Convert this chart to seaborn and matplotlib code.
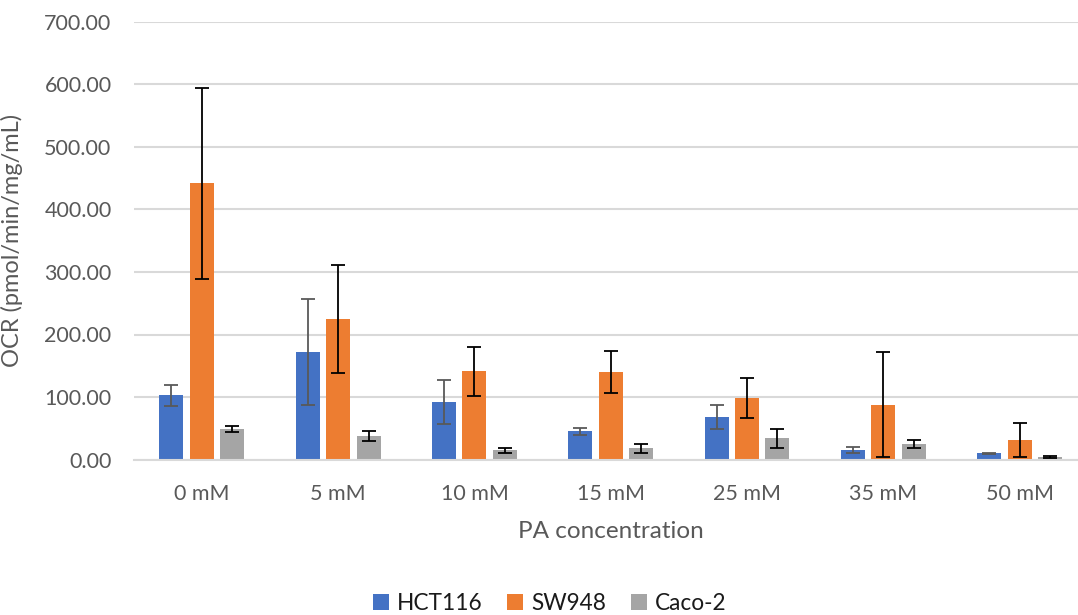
import numpy as np
import pandas as pd
import matplotlib
matplotlib.use("Agg")
import matplotlib.pyplot as plt
from matplotlib.patches import Patch
import seaborn as sns

# OCR per PA concentration for three colorectal cell lines (mean and SD)
concentrations = ["0 mM", "5 mM", "10 mM", "15 mM", "25 mM", "35 mM", "50 mM"]
cell_lines = ["HCT116", "SW948", "Caco-2"]
hct116_mean = [103, 172, 92, 45, 68, 15, 10]
hct116_sd = [17, 85, 35, 5, 19, 5, 1]
sw948_mean = [442, 225, 141, 140, 98, 88, 31]
sw948_sd = [153, 86, 39, 33, 32, 84, 27]
caco2_mean = [49, 37, 15, 18, 34, 25, 4]
caco2_sd = [5, 8, 4, 7, 15, 6, 2]
y_ticks = [0, 100, 200, 300, 400, 500, 600, 700]

colors = ["#4472C4", "#ED7D31", "#A5A5A5"]
err_colors = ["#595959", "#000000", "#000000"]
text_color = "#595959"
grid_color = "#D9D9D9"

means = [hct116_mean, sw948_mean, caco2_mean]
sds = [hct116_sd, sw948_sd, caco2_sd]

df = pd.DataFrame({
    "concentration": concentrations * 3,
    "cell_line": np.repeat(cell_lines, len(concentrations)),
    "ocr": hct116_mean + sw948_mean + caco2_mean,
})

sns.set_theme(style="white")
plt.rcParams["font.family"] = ["Lato", "DejaVu Sans"]

W, H = 1078, 615
fig = plt.figure(figsize=(W / 100, H / 100), dpi=100)
ax = fig.add_axes([133.75 / W, (H - 459.5) / H, 954 / W, 437.5 / H])

sns.barplot(data=df, x="concentration", y="ocr", hue="cell_line",
            order=concentrations, hue_order=cell_lines, palette=colors,
            errorbar=None, width=0.67, gap=0.21, linewidth=0,
            saturation=1, legend=False, ax=ax)

# error bars centred on each drawn bar
for container, m, s, ec in zip(ax.containers, means, sds, err_colors):
    xs = [p.get_x() + p.get_width() / 2 for p in container.patches]
    ax.errorbar(xs, m, yerr=s, fmt="none", ecolor=ec, elinewidth=1.3,
                capsize=4.7, capthick=1.3, zorder=4)

ax.set_ylim(0, 700)
ax.set_xlim(-0.5, len(concentrations) - 0.5)
ax.set_yticks(y_ticks)
ax.set_yticklabels([f"{v:.2f}" for v in y_ticks])
ax.yaxis.grid(True, color=grid_color, linewidth=1.5)
ax.set_axisbelow(True)
for side in ["top", "right", "left"]:
    ax.spines[side].set_visible(False)
ax.spines["bottom"].set_color(grid_color)
ax.spines["bottom"].set_linewidth(1.5)
ax.tick_params(axis="y", length=0, pad=16, labelsize=15.5, labelcolor=text_color)
ax.tick_params(axis="x", length=0, pad=18, labelsize=15.5, labelcolor=text_color)

ax.set_xlabel("")
ax.set_ylabel("OCR (pmol/min/mg/mL)", fontsize=17, color=text_color)
ax.yaxis.set_label_coords((23 - 133.75) / 954, 0.5)

fig.text(611 / W, 1 - 531 / H, "PA concentration", ha="center", va="center",
         fontsize=17.5, color=text_color)

handles = [Patch(facecolor=c, edgecolor="none") for c in colors]
fig.legend(handles, cell_lines, loc="center", bbox_to_anchor=(549.5 / W, 1 - 603 / H),
           ncol=3, frameon=False, fontsize=16.3, labelcolor="#1A1A1A",
           handlelength=0.7, handleheight=0.7, handletextpad=0.35,
           columnspacing=1.1)

fig.savefig("out.png", dpi=100)
